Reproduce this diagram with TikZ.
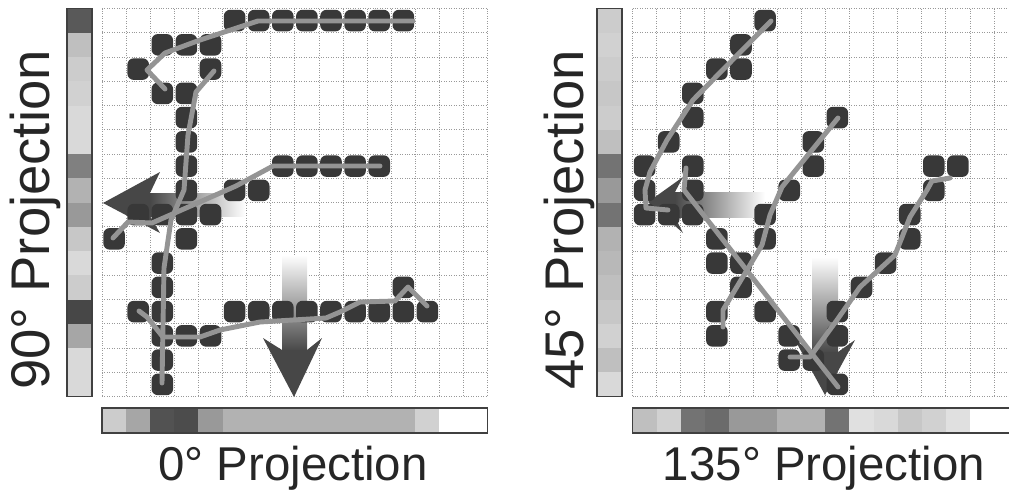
\documentclass[tikz,border=0pt]{standalone}
\usepackage{fontspec}
\setmainfont{Liberation Sans}
\usetikzlibrary{calc}
\tikzset{
	blob/.style={fill=black!78, rounded corners=3.6pt},
	trail/.style={line width=2.8pt, color=black!42, line join=round, line cap=round},
	gridline/.style={densely dotted, color=black!40, line width=0.4pt},
	barframe/.style={draw=black!75, line width=0.7pt},
	sidelabel/.style={font=\fontsize{31}{31}\selectfont, text=black!85, rotate=90, anchor=base},
	bottomlabel/.style={font=\fontsize{27}{27}\selectfont, text=black!85, anchor=base},
}
\def\lcell(#1,#2){({102+24.1*#1+1.3},{8.5+24.25*#2+1.3})}
\def\rcell(#1,#2){({632.5+24.1*#1+1.3},{8.5+24.25*#2+1.3})}

\begin{document}
\begin{tikzpicture}[x=0.02cm, y=-0.02cm]
			%%%%% START %%%%%
			\useasboundingbox (0,0) rectangle (1009,491);
			\clip (0,0) rectangle (1009,491);
			
			%% grids
			\foreach \i in {0,...,16} {
				\draw[gridline] ({102+24.1*\i},8.5) -- ({102+24.1*\i},396.5);
				\draw[gridline] (102,{8.5+24.25*\i}) -- (487.6,{8.5+24.25*\i});
				\draw[gridline] ({632.5+24.1*\i},8.5) -- ({632.5+24.1*\i},396.5);
				\draw[gridline] (632.5,{8.5+24.25*\i}) -- (1018,{8.5+24.25*\i});
			}
			
			%% projection bars, left panel
			\foreach \r/\g in {0/65,1/25,2/20,3/18,4/15,5/15,6/50,7/30,8/40,9/22,10/15,11/20,12/72,13/35,14/15,15/15}
				\fill[black!\g] (67,{8.5+24.25*\r}) rectangle (92,{8.5+24.25*(\r+1)});
			\draw[barframe] (67,8.5) rectangle (92,396.5);
			\foreach \c/\g in {0/20,1/35,2/68,3/70,4/40,5/30,6/30,7/30,8/30,9/30,10/30,11/30,12/30,13/18,14/0,15/0}
				\fill[black!\g] ({102+24.1*\c},408) rectangle ({102+24.1*(\c+1)},433);
			\draw[barframe] (102,408) rectangle (487.6,433);
			
			%% projection bars, right panel
			\foreach \r/\g in {0/20,1/18,2/20,3/22,4/20,5/25,6/55,7/40,8/55,9/30,10/28,11/25,12/22,13/18,14/25,15/15}
				\fill[black!\g] (597,{8.5+24.25*\r}) rectangle (622,{8.5+24.25*(\r+1)});
			\draw[barframe] (597,8.5) rectangle (622,396.5);
			\foreach \c/\g in {0/25,1/18,2/55,3/58,4/40,5/40,6/30,7/30,8/55,9/12,10/15,11/22,12/18,13/12,14/0,15/0}
				\fill[black!\g] ({632.5+24.1*\c},408) rectangle ({632.5+24.1*(\c+1)},433);
			\draw[barframe] (632.5,408) rectangle (1018,433);
			
			%% big arrows
			\shade[left color=black!72, right color=white] (150,193) rectangle (245,216);
			\fill[black!72] (103,203) -- (160,172) -- (150,193) -- (150,216) -- (160,233) -- cycle;
			\shade[top color=white, bottom color=black!72] (282,255) rectangle (307,351);
			\fill[black!72] (294,397) -- (263,338) -- (282,350) -- (307,350) -- (322,338) -- cycle;
			
			\shade[left color=black!72, right color=white] (675,192) rectangle (765,217);
			\fill[black!72] (648,202) -- (683,177) -- (675,192) -- (675,217) -- (683,233) -- cycle;
			\shade[top color=white, bottom color=black!72] (812,257) rectangle (838,353);
			\fill[black!72] (825,395) -- (795,340) -- (812,352) -- (838,352) -- (855,340) -- cycle;
			
			%% dots, left panel
			\foreach \c/\r in {5/0,6/0,7/0,8/0,9/0,10/0,11/0,12/0,2/1,3/1,4/1,1/2,4/2,2/3,3/3,3/4,3/5,
				3/6,7/6,8/6,9/6,10/6,11/6,3/7,5/7,6/7,1/8,2/8,3/8,4/8,0/9,3/9,2/10,2/11,12/11,
				1/12,2/12,5/12,6/12,7/12,8/12,9/12,10/12,11/12,12/12,13/12,2/13,3/13,4/13,2/14,2/15}
				\fill[blob] \lcell(\c,\r) rectangle +(21.6,21.6);
			
			%% dots, right panel
			\foreach \c/\r in {5/0,4/1,3/2,4/2,2/3,2/4,8/4,1/5,7/5,0/6,2/6,7/6,12/6,13/6,0/7,2/7,6/7,12/7,
				0/8,1/8,2/8,5/8,11/8,3/9,5/9,11/9,3/10,4/10,10/10,4/11,9/11,3/12,5/12,8/12,
				3/13,6/13,8/13,6/14,7/14,8/15}
				\fill[blob] \rcell(\c,\r) rectangle +(21.6,21.6);
			
			%% pen trails, left panel
			\draw[trail] (413,21) -- (258,21) -- (200,40) -- (165,53) -- (147,70) -- (165,89);
			\draw[trail] (214,71) -- (196,92) -- (188,135) -- (184,190) -- (171,220) -- (164,268) -- (162,383);
			\draw[trail] (380,166) -- (273,166) -- (236,186) -- (177,212) -- (152,223) -- (128,222) -- (113,238);
			\draw[trail] (427,306) -- (408,287) -- (395,301) -- (360,302) -- (340,312) -- (326,318) -- (260,322)
				-- (220,330) -- (200,337) -- (163,337) -- (147,317) -- (139,311);
			
			%% pen trails, right panel
			\draw[trail] (771,21) -- (693,100) -- (667,140) -- (650,172) -- (645,190) -- (646,208) -- (668,210);
			\draw[trail] (686,168) -- (684,190) -- (838,387);
			\draw[trail] (838,118) -- (782,187) -- (770,215) -- (762,245) -- (723,310) -- (723,327);
			\draw[trail] (950,178) -- (932,181) -- (927,190) -- (910,217) -- (895,255) -- (860,287)
				-- (837,320) -- (810,357) -- (790,357);
			
			%% labels
			\node[sidelabel] (lside) at (50,220) {90° Projection};
			\node[bottomlabel] (lbottom) at (293,480) {0° Projection};
			\node[sidelabel] (rside) at (583,220) {45° Projection};
			\node[bottomlabel] (rbottom) at (824,480) {135° Projection};
			%%%%% END %%%%%
\end{tikzpicture}
\end{document}
